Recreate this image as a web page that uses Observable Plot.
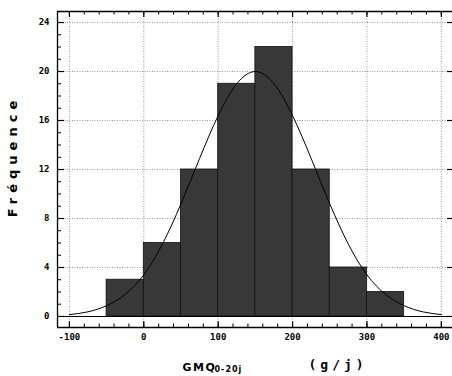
<!DOCTYPE html>
<html>
<head>
<meta charset="utf-8">
<script src="https://cdn.jsdelivr.net/npm/d3@7"></script>
<script src="https://cdn.jsdelivr.net/npm/@observablehq/plot@0.6"></script>
<style>
  html, body { margin: 0; padding: 0; background: #fff; overflow: hidden; }
</style>
</head>
<body>
<div id="chart"></div>
<script>
// Histogram bins (g/j) and frequencies
const binStart = [-50, 0, 50, 100, 150, 200, 250, 300];
const binEnd   = [0, 50, 100, 150, 200, 250, 300, 350];
const freq     = [3, 6, 12, 19, 22, 12, 4, 2];

// Fitted normal curve
const curveX = [-100, -75, -50, -25, 0, 25, 50, 75, 100, 125, 150, 175, 200, 225, 250, 275, 300, 325, 350, 375, 400];
const curveY = [0.15, 0.38, 0.88, 1.8, 3.4, 5.9, 9.2, 12.9, 16.4, 19.0, 20.0, 19.0, 16.4, 12.9, 9.2, 5.9, 3.4, 1.8, 0.88, 0.38, 0.15];

// Tick labels
const xTicks = [-100, 0, 100, 200, 300, 400];
const yTicks = [0, 4, 8, 12, 16, 20, 24];
const xMinor = d3.range(-100, 401, 20);
const yMinor = d3.range(0, 25, 1);

const bars = binStart.map((s, i) => ({x1: s, x2: binEnd[i], y: freq[i]}));
const curve = curveX.map((x, i) => ({x, y: curveY[i]}));

const W = 452, H = 376;
const mL = 57, mR = 0, mT = 11, mB = 49;
const xDom = [-116, 415];
const yDom = [-0.9, 24.9];
const pxY = (H - mT - mB) / (yDom[1] - yDom[0]);
const pxX = (W - mL - mR) / (xDom[1] - xDom[0]);

const font = "'DejaVu Sans Mono', monospace";

const chart = Plot.plot({
  width: W, height: H,
  marginLeft: mL, marginRight: mR, marginTop: mT, marginBottom: mB,
  style: {fontFamily: font, fontSize: "9px", fontWeight: "bold", background: "#fff", color: "#000"},
  x: {domain: xDom, label: null},
  y: {domain: yDom, label: null},
  marks: [
    // dotted grid
    Plot.ruleX(xTicks, {stroke: "#999", strokeWidth: 1, strokeDasharray: "1,1.5"}),
    Plot.ruleY(yTicks, {stroke: "#999", strokeWidth: 1, strokeDasharray: "1,1.5"}),
    // bars
    Plot.rectY(bars, {x1: "x1", x2: "x2", y: "y", fill: "#383838", stroke: "#111", strokeWidth: 0.8}),
    // baseline
    Plot.ruleY([0], {stroke: "#000", strokeWidth: 1.2}),
    // normal curve
    Plot.line(curve, {x: "x", y: "y", curve: "natural", stroke: "#000", strokeWidth: 1}),
    // frame lines
    Plot.ruleX([xDom[0]], {stroke: "#000", strokeWidth: 1.3}),
    Plot.ruleY([yDom[0]], {stroke: "#000", strokeWidth: 1.3}),
    Plot.ruleY([yDom[1]], {stroke: "#000", strokeWidth: 1.3}),
    // bottom ticks (inward)
    Plot.ruleX(xMinor, {y1: yDom[0], y2: yDom[0] + 3.5 / pxY, stroke: "#000", strokeWidth: 1}),
    Plot.ruleX(xTicks, {y1: yDom[0], y2: yDom[0] + 6 / pxY, stroke: "#000", strokeWidth: 1.2}),
    // top ticks (inward)
    Plot.ruleX(xMinor, {y1: yDom[1], y2: yDom[1] - 3.5 / pxY, stroke: "#000", strokeWidth: 1}),
    Plot.ruleX(xTicks, {y1: yDom[1], y2: yDom[1] - 6 / pxY, stroke: "#000", strokeWidth: 1.2}),
    // left ticks (inward)
    Plot.ruleY(yMinor, {x1: xDom[0], x2: xDom[0] + 4 / pxX, stroke: "#000", strokeWidth: 1}),
    Plot.ruleY(yTicks, {x1: xDom[0], x2: xDom[0] + 7 / pxX, stroke: "#000", strokeWidth: 1.2}),
    // right ticks (inward)
    Plot.ruleY(yTicks, {x1: xDom[1], x2: xDom[1] - 5 / pxX, stroke: "#000", strokeWidth: 1.2}),
    // axes labels
    Plot.axisX(xTicks, {anchor: "bottom", tickSize: 0, tickPadding: 6, tickFormat: d => String(d), label: null, fontFamily: font, fontWeight: "bold", fontSize: 9}),
    Plot.axisY(yTicks, {anchor: "left", tickSize: 0, tickPadding: 8, tickFormat: d => String(d), label: null, fontFamily: font, fontWeight: "bold", fontSize: 9}),
    // y title
    Plot.text(["Fréquence"], {frameAnchor: "left", dx: -45, dy: -13, rotate: -90, textAnchor: "middle", fontFamily: "'DejaVu Sans', sans-serif", fontWeight: "bold", fontSize: 13, fill: "#000"}),
    // x title
    Plot.text(["GMQ"], {frameAnchor: "bottom-left", dx: 125, dy: 43, textAnchor: "start", fontFamily: "'DejaVu Sans', sans-serif", fontWeight: "bold", fontSize: 11, fill: "#000"}),
    Plot.text(["0-20j"], {frameAnchor: "bottom-left", dx: 157, dy: 44, textAnchor: "start", fontFamily: "'DejaVu Sans', sans-serif", fontWeight: "bold", fontSize: 8, fill: "#000"}),
    Plot.text(["(g/j)"], {frameAnchor: "bottom-left", dx: 251, dy: 41, textAnchor: "start", fontFamily: "'DejaVu Sans Mono', monospace", fontWeight: "bold", fontSize: 13, fill: "#000"})
  ]
});
document.getElementById("chart").appendChild(chart);

// letter spacing for titles to match the reference
chart.querySelectorAll("text").forEach(t => {
  const s = t.textContent;
  if (s === "Fréquence") t.setAttribute("letter-spacing", "5");
  if (s === "GMQ") t.setAttribute("letter-spacing", "1.5");
  if (s === "0-20j") t.setAttribute("letter-spacing", "1");
  if (s === "(g/j)") t.setAttribute("letter-spacing", "4");
});
</script>
</body>
</html>
